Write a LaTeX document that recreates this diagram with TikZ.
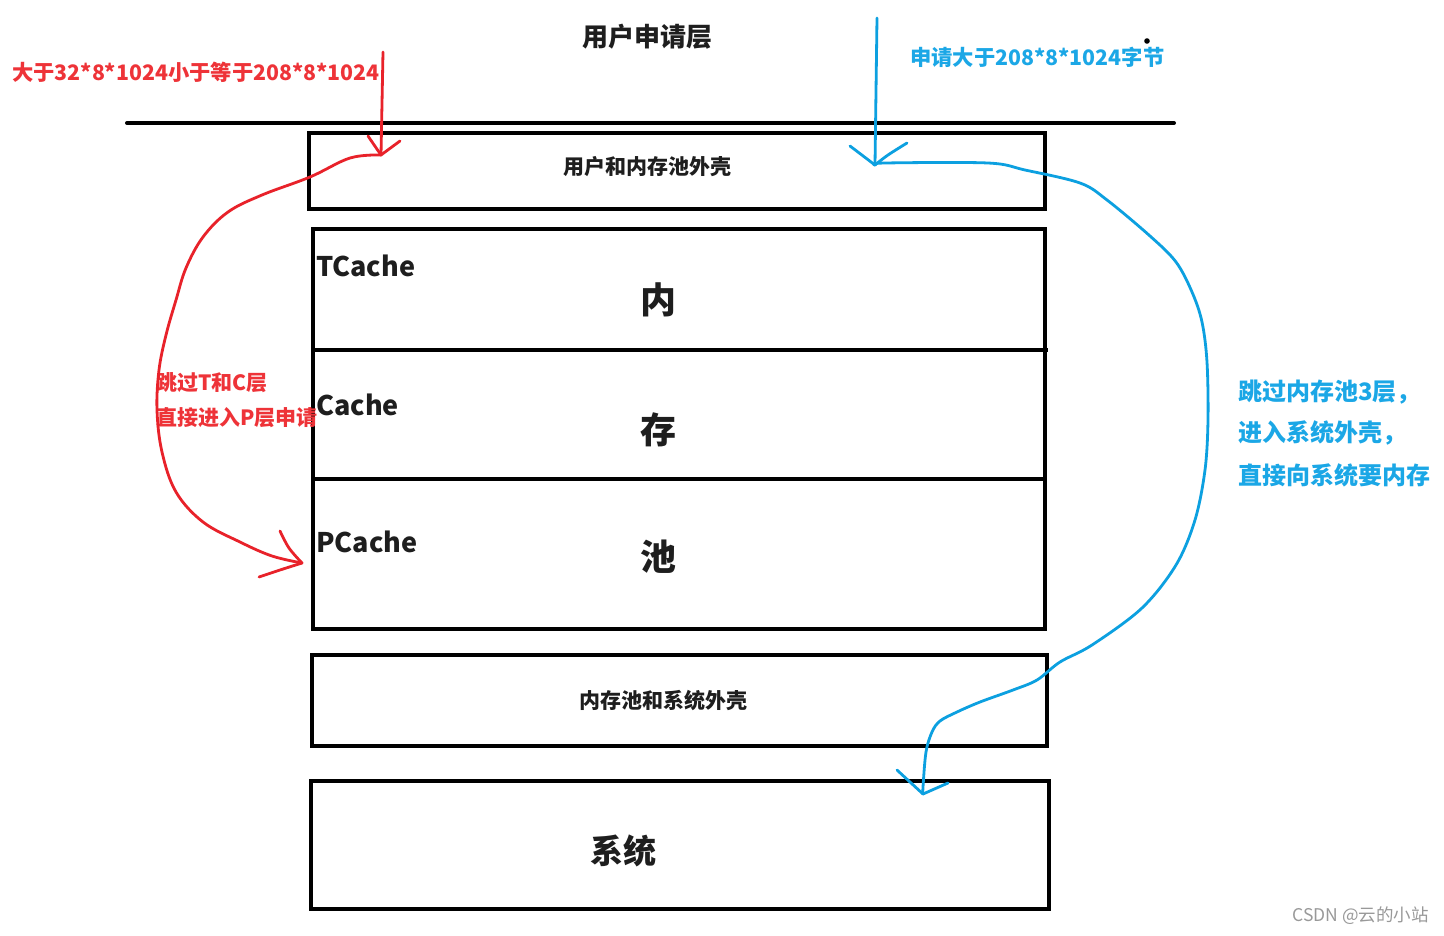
\documentclass[tikz,border=0pt]{standalone}
\usepackage{fontspec}
\newfontfamily\cjk{Noto Sans CJK SC}
\usetikzlibrary{positioning}
\definecolor{redink}{HTML}{E8222A}
\definecolor{redtext}{HTML}{EE3338}
\definecolor{blueink}{HTML}{0CA0E0}
\definecolor{bluetext}{HTML}{1BA7E6}
\definecolor{darktext}{HTML}{1E1E1E}
\tikzset{
  box/.style={draw=black, line width=4pt, inner sep=0pt, rectangle},
  rule/.style={draw=black, line width=4pt, line cap=round},
  redstroke/.style={draw=redink, line width=2.8pt, line cap=round, line join=round},
  bluestroke/.style={draw=blueink, line width=2.8pt, line cap=round, line join=round},
  lbl/.style={inner sep=0pt, font=\cjk\bfseries, text=darktext},
  redlbl/.style={inner sep=0pt, font=\cjk\bfseries\fontsize{21}{25}\selectfont, text=redtext, anchor=west},
  bluelbl/.style={inner sep=0pt, font=\cjk\bfseries\fontsize{24}{28}\selectfont, text=bluetext, anchor=west},
}
\begin{document}
\begin{tikzpicture}[x=1pt,y=-1pt]
\useasboundingbox (0,0) rectangle (1444,935);
\fill[white] (0,0) rectangle (1444,935);

% title
\node[lbl, font=\cjk\bfseries\fontsize{26}{30}\selectfont] (title) at (647,37) {用户申请层};

% texts top
\node[redlbl, font=\cjk\bfseries\fontsize{21.3}{25}\selectfont] (redtop) at (12,72) {大于32*8*1024小于等于208*8*1024};
\node[bluelbl, font=\cjk\bfseries\fontsize{21.3}{25}\selectfont] (bluetop) at (910,57) {申请大于208*8*1024字节};
\fill[black] (1147,41) circle (2.8pt);

% separator line
\coordinate (ruleL) at (127,123);
\coordinate (ruleR) at (1174,123);
\draw[rule] (ruleL) -- (ruleR);

% boxes
\node[box, minimum width=736pt, minimum height=76pt] (shell) at (677,171) {};
\node[lbl, font=\cjk\bfseries\fontsize{21}{25}\selectfont] (shelltxt) at (647,167) {用户和内存池外壳};

\node[box, minimum width=732pt, minimum height=400pt] (pool) at (679,429) {};
\coordinate (d1L) at (313,350);
\coordinate (d1R) at (1048,350);
\coordinate (d2L) at (313,479);
\coordinate (d2R) at (1045,479);
\draw[rule, line cap=butt] (d1L) -- (d1R);
\draw[rule, line cap=butt] (d2L) -- (d2R);

\node[lbl, anchor=west, font=\cjk\bfseries\fontsize{27}{31}\selectfont] (tc) at (316,266) {TCache};
\node[lbl, anchor=west, font=\cjk\bfseries\fontsize{27}{31}\selectfont] (cc) at (316,405) {Cache};
\node[lbl, anchor=west, font=\cjk\bfseries\fontsize{27}{31}\selectfont] (pc) at (316,542) {PCache};
\node[lbl, font=\cjk\bfseries\fontsize{36}{40}\selectfont] (nei) at (658,300) {内};
\node[lbl, font=\cjk\bfseries\fontsize{36}{40}\selectfont] (cun) at (658,430) {存};
\node[lbl, font=\cjk\bfseries\fontsize{36}{40}\selectfont] (chi) at (658,557) {池};

\node[box, minimum width=735pt, minimum height=91pt] (sysshell) at (679.5,700.5) {};
\node[lbl, font=\cjk\bfseries\fontsize{21}{25}\selectfont] (sysshelltxt) at (663,700) {内存池和系统外壳};

\node[box, minimum width=738pt, minimum height=128pt] (sys) at (680,845) {};
\node[lbl, font=\cjk\bfseries\fontsize{33}{37}\selectfont] (systxt) at (623,851) {系统};

% red side labels
\node[redlbl] (redA) at (156,383) {跳过T和C层};
\node[redlbl] (redB) at (156,418) {直接进入P层申请};

% blue side labels
\node[bluelbl] (blueA) at (1238,392) {跳过内存池3层，};
\node[bluelbl] (blueB) at (1238,433) {进入系统外壳，};
\node[bluelbl] (blueC) at (1238,475) {直接向系统要内存};

% red arrows
\coordinate (rs) at (383,52);
\coordinate (rt) at (381,155);
\draw[redstroke] (rs) -- (rt);
\draw[redstroke] (368,136) -- (rt) -- (400,141);
\coordinate (rc) at (302,563);
\draw[redstroke] plot[smooth, tension=0.6] coordinates {(rt) (350,158) (310,177) (262,195) (228,212) (203,237) (186,268) (176,300) (166,335) (159,370) (157,410) (162,452) (176,492) (203,522) (240,542) (272,556) (rc)};
\draw[redstroke] plot[smooth, tension=0.6] coordinates {(280,531) (289,548) (rc)};
\draw[redstroke] plot[smooth, tension=0.6] coordinates {(259,577) (280,570) (rc)};

% blue arrows
\coordinate (bs) at (877,18);
\coordinate (bt) at (875,165);
\draw[bluestroke] (bs) -- (bt);
\draw[bluestroke] (850,146) -- (bt);
\draw[bluestroke] plot[smooth, tension=0.6] coordinates {(907,143) (888,155) (bt)};
\coordinate (bc) at (923,794);
\draw[bluestroke] plot[smooth, tension=0.55] coordinates {(bt) (885,163) (988,163) (1025,170) (1080,183) (1107,200) (1150,236) (1176,262) (1192,292) (1202,322) (1207,362) (1208,420) (1205,470) (1195,520) (1176,565) (1142,608) (1092,645) (1060,662) (1037,680) (1013,690) (980,702) (957,712) (940,721) (932,732) (926,752) (923,787) (bc)};
\draw[bluestroke] (897,770) -- (bc) -- (948,783);

% watermark
\node[inner sep=0pt, anchor=east, font=\cjk\fontsize{17.5}{20}\selectfont, text=black!40] (wm) at (1429,916) {CSDN @云的小站};
\end{tikzpicture}
\end{document}
